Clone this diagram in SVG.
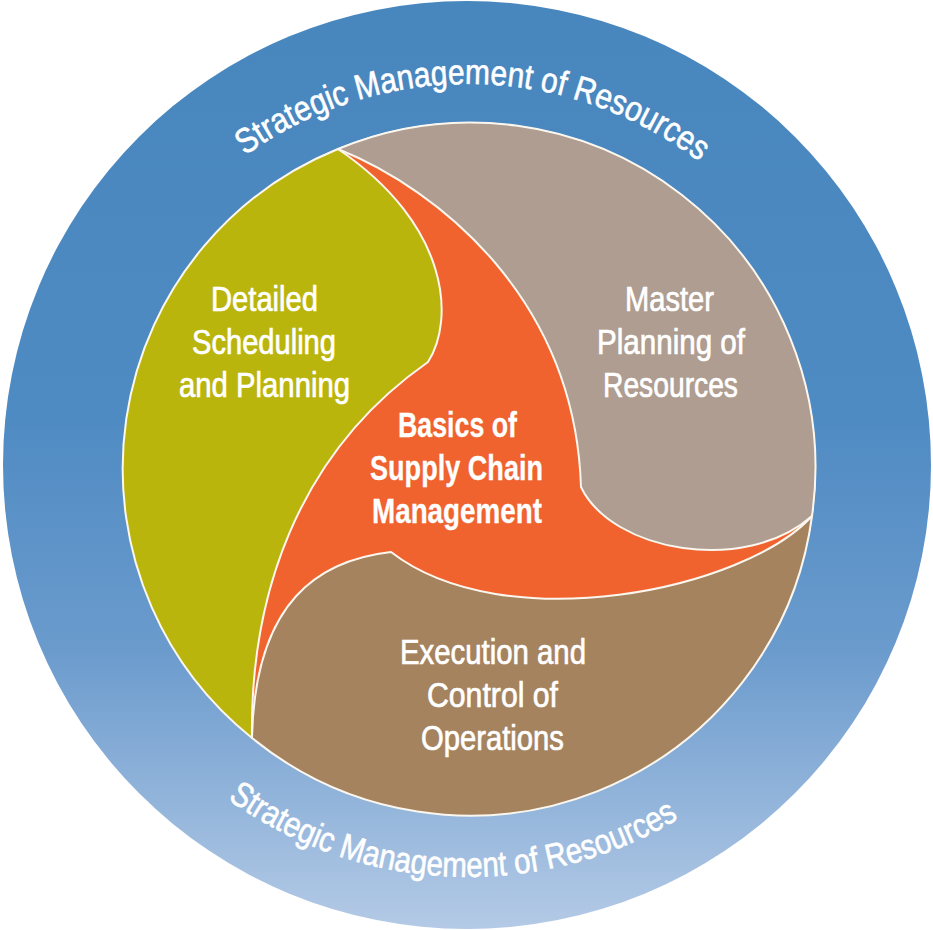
<svg xmlns="http://www.w3.org/2000/svg" width="933" height="930" viewBox="0 0 933 930">
  <defs>
    <linearGradient id="ringGrad" x1="0" y1="0" x2="0" y2="1">
      <stop offset="0" stop-color="#4886be"/>
      <stop offset="0.45" stop-color="#4f8bc3"/>
      <stop offset="0.7" stop-color="#6b9bcd"/>
      <stop offset="1" stop-color="#b4cae6"/>
    </linearGradient>
    <path id="arcTop" d="M245.1,155.6 A383,383 0 0 1 701.2,163.1"/>
    <path id="arcBottom" d="M227.6,799.1 A410,410 0 0 0 681,817.3"/>
    <style>
      .seg { stroke: #fbf6ee; stroke-width: 2; stroke-linejoin: round; }
      .lbl { font-family: "Liberation Sans", Arial, sans-serif; font-size: 35px; fill: #ffffff; stroke: #ffffff; stroke-width: 0.7; }
      .bold { font-weight: bold; stroke-width: 0.3; }
      .ring { font-family: "Liberation Sans", Arial, sans-serif; font-size: 35px; fill: #ffffff; stroke: #ffffff; stroke-width: 0.6; }
    </style>
  </defs>
  <rect width="933" height="930" fill="#ffffff"/>

  <g id="ring">
    <circle cx="467" cy="465" r="464" fill="url(#ringGrad)"/>
    <text class="ring"><textPath href="#arcTop" textLength="486" lengthAdjust="spacingAndGlyphs">Strategic Management of Resources</textPath></text>
    <text class="ring"><textPath href="#arcBottom" textLength="478" lengthAdjust="spacingAndGlyphs">Strategic Management of Resources</textPath></text>
  </g>

  <g id="node-basics">
    <circle class="seg" cx="470" cy="468" r="345" fill="#f0632f"/>
    <text class="lbl bold" x="398" y="437" textLength="119" lengthAdjust="spacingAndGlyphs">Basics of</text>
    <text class="lbl bold" x="370" y="480" textLength="173" lengthAdjust="spacingAndGlyphs">Supply Chain</text>
    <text class="lbl bold" x="372" y="523" textLength="170" lengthAdjust="spacingAndGlyphs">Management</text>
  </g>

  <g id="node-detailed">
    <path class="seg" fill="#bab50d" d="M338,149 A345,345 0 0 0 252,738 C250,600 295,455 428,362 C455,320 450,225 338,149 Z"/>
    <text class="lbl" x="211" y="311" textLength="107" lengthAdjust="spacingAndGlyphs">Detailed</text>
    <text class="lbl" x="192" y="354" textLength="144" lengthAdjust="spacingAndGlyphs">Scheduling</text>
    <text class="lbl" x="179" y="397" textLength="171" lengthAdjust="spacingAndGlyphs">and Planning</text>
  </g>

  <g id="node-master">
    <path class="seg" fill="#ae9d90" d="M338,149 A345,345 0 0 1 812,516 C745,575 612,552 581,487 C575,300 440,190 338,149 Z"/>
    <text class="lbl" x="625" y="311" textLength="89" lengthAdjust="spacingAndGlyphs">Master</text>
    <text class="lbl" x="597" y="354" textLength="148" lengthAdjust="spacingAndGlyphs">Planning of</text>
    <text class="lbl" x="603" y="397" textLength="135" lengthAdjust="spacingAndGlyphs">Resources</text>
  </g>

  <g id="node-execution">
    <path class="seg" fill="#a5835f" d="M812,516 A345,345 0 0 1 252,738 C255,600 320,560 391,552 C505,640 745,590 812,516 Z"/>
    <text class="lbl" x="400" y="664" textLength="186" lengthAdjust="spacingAndGlyphs">Execution and</text>
    <text class="lbl" x="427" y="707" textLength="131" lengthAdjust="spacingAndGlyphs">Control of</text>
    <text class="lbl" x="421" y="750" textLength="143" lengthAdjust="spacingAndGlyphs">Operations</text>
  </g>

  <g id="connectors"/>
</svg>
